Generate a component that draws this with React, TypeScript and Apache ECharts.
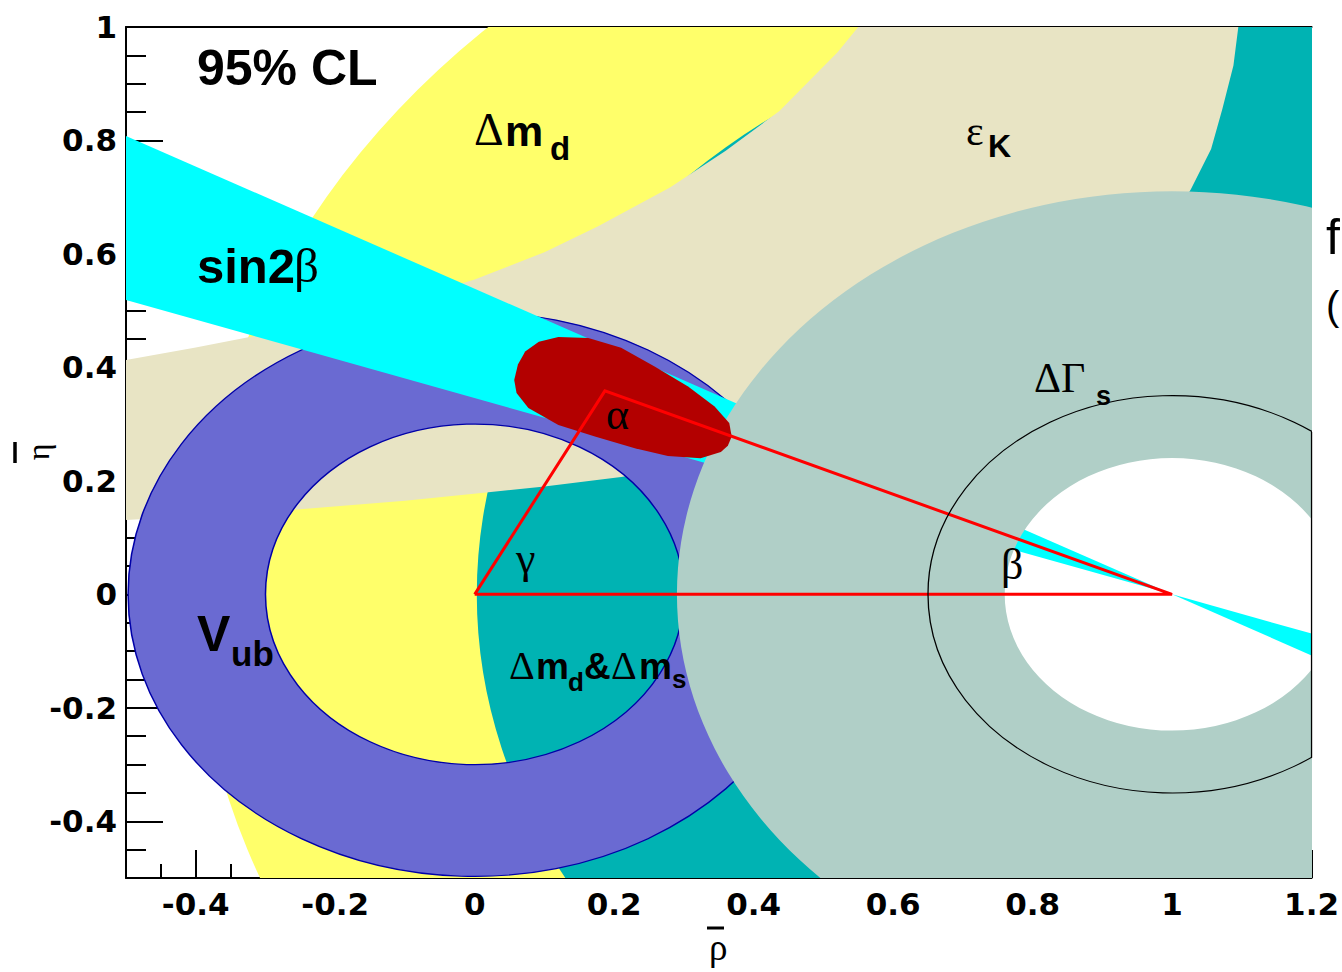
import React, { useEffect, useRef } from "react";
import * as echarts from "echarts";

// ---- axes ----
const X_MIN = -0.5;
const X_MAX = 1.2;
const Y_MIN = -0.5;
const Y_MAX = 1;
const xMajorTicks = [-0.4, -0.2, 0, 0.2, 0.4, 0.6, 0.8, 1, 1.2];
const yMajorTicks = [-0.4, -0.2, 0, 0.2, 0.4, 0.6, 0.8, 1];
const minorStep = 0.05;

// ---- constraint bands (centre in (rho, eta), radii in data units) ----
const dmdBand = { center: [1, 0], inner: 0.8, outer: 1.4 }; // yellow, Δm_d
const dmdDmsBand = { center: [1.05, 0], inner: 0.5, outer: 1.047 }; // teal, Δm_d&Δm_s
const vubBand = { center: [0, 0], inner: 0.3, outer: 0.497 }; // blue, V_ub
const dGammaBand = { center: [1, 0], inner: 0.24, outer: 0.71 }; // grey, ΔΓ_s
const dGammaCircle = { center: [1, 0], r: 0.35 }; // thin black circle
const dGammaCircleEdge = [
  [1.2, 0.286],
  [1.2, -0.288],
];

// ε_K band: upper boundary (left→right) and lower boundary (right→left)
const epsKUpper = [
  [-0.55, 0.402], [-0.5, 0.413], [-0.4, 0.435], [-0.319, 0.4546], [-0.2, 0.487],
  [-0.1, 0.518], [0, 0.555], [0.1, 0.603], [0.177, 0.649], [0.28, 0.717],
  [0.36, 0.782], [0.437, 0.852], [0.482, 0.908], [0.52, 0.955], [0.55, 1.0], [0.59, 1.06],
];
const epsKLower = [
  [1.105, 1.06], [1.095, 1.0], [1.088, 0.932], [1.072, 0.855], [1.056, 0.785],
  [1.027, 0.714], [1.0, 0.66], [0.9, 0.53], [0.8, 0.44], [0.7, 0.37], [0.5, 0.28],
  [0.3, 0.225], [0.21, 0.207], [0.1, 0.19], [0.006, 0.178], [-0.1, 0.165],
  [-0.3, 0.145], [-0.5, 0.131], [-0.55, 0.127],
];

// sin2β wedge (two lines through the apex (1,0))
const sin2bLeft = [[-0.5, 0.808], [1, 0], [-0.5, 0.519]];
const sin2bRight = [[1, 0], [1.2, -0.1077], [1.2, -0.0692]];

// 95% CL fit contour
const fitContour = [
  [0.0567, 0.378], [0.062, 0.405], [0.0724, 0.428], [0.092, 0.445], [0.12, 0.4535],
  [0.163, 0.452], [0.21, 0.4346], [0.258, 0.4016], [0.306, 0.3663], [0.344, 0.331],
  [0.365, 0.302], [0.3686, 0.278], [0.363, 0.262], [0.353, 0.251], [0.324, 0.24],
  [0.277, 0.244], [0.2296, 0.2574], [0.1724, 0.278], [0.12, 0.2986], [0.077, 0.3286],
  [0.06, 0.355],
];

// unitarity triangle
const triangle = [[0, 0], [0.1867, 0.3587], [1, 0], [0, 0]];

const SANS = '"Liberation Sans", Arial, Helvetica, sans-serif';
const SERIF = '"Liberation Serif", "Times New Roman", serif';
const TICKFONT = '"DejaVu Sans", "Liberation Sans", sans-serif';

const COLORS = {
  yellow: "#ffff6a",
  teal: "#00b3b3",
  beige: "#e8e4c4",
  blue: "#6a6ad2",
  blueEdge: "#0000a8",
  cyan: "#00ffff",
  grey: "#b0cfc7",
  red: "#b30000",
  line: "#ff0000",
};

function bandSeries(name: string, z: number, band: any, fill: string, stroke?: string) {
  return {
    type: "custom",
    name,
    coordinateSystem: "cartesian2d",
    clip: true,
    silent: true,
    z,
    data: [[band.center[0], band.center[1], band.inner, band.outer]],
    renderItem: (params: any, api: any) => {
      const c = api.coord([api.value(0), api.value(1)]);
      const ux = api.size([1, 0])[0];
      const uy = api.size([0, 1])[1];
      return {
        type: "ring",
        x: c[0],
        y: c[1],
        scaleY: uy / ux,
        shape: { cx: 0, cy: 0, r: api.value(3) * ux, r0: api.value(2) * ux },
        style: {
          fill,
          stroke: stroke || null,
          lineWidth: stroke ? 1.5 : 0,
          strokeNoScale: true,
        },
      };
    },
  };
}

function circleSeries(name: string, z: number, circ: any, stroke: string) {
  return {
    type: "custom",
    name,
    coordinateSystem: "cartesian2d",
    clip: true,
    silent: true,
    z,
    data: [[circ.center[0], circ.center[1], circ.r]],
    renderItem: (params: any, api: any) => {
      const c = api.coord([api.value(0), api.value(1)]);
      const ux = api.size([1, 0])[0];
      const uy = api.size([0, 1])[1];
      return {
        type: "circle",
        x: c[0],
        y: c[1],
        scaleY: uy / ux,
        shape: { cx: 0, cy: 0, r: api.value(2) * ux },
        style: { fill: "none", stroke, lineWidth: 1.3, strokeNoScale: true },
      };
    },
  };
}

function polygonSeries(name: string, z: number, polys: number[][][], fill: string) {
  const all = polys.flat();
  return {
    type: "custom",
    name,
    coordinateSystem: "cartesian2d",
    clip: true,
    silent: true,
    z,
    data: all,
    renderItem: (params: any, api: any) => {
      if (params.dataIndex !== 0) return null;
      return {
        type: "group",
        children: polys.map((poly) => ({
          type: "polygon",
          shape: { points: poly.map((p) => api.coord(p)) },
          style: { fill, stroke: null },
        })),
      };
    },
  };
}

function lineSeries(name: string, z: number, data: number[][], color: string, width: number) {
  return {
    type: "line",
    name,
    z,
    data,
    silent: true,
    showSymbol: false,
    symbol: "none",
    clip: false,
    lineStyle: { color, width, join: "miter" },
  };
}

type Frag = [string, number, number, string, number, string?];
const labelFrags: Frag[] = [
  ["95% CL", 197, 85, SANS, 50, "bold"],
  ["sin2", 197, 283, SANS, 49, "bold"],
  ["β", 294, 283, SERIF, 49],
  ["Δ", 474, 146, SERIF, 46],
  ["m", 505, 146, SANS, 43, "bold"],
  ["d", 550, 160, SANS, 33, "bold"],
  ["ε", 966, 146, SERIF, 42],
  ["K", 988, 157, SANS, 32, "bold"],
  ["V", 197, 651, SANS, 50, "bold"],
  ["ub", 231, 666, SANS, 35, "bold"],
  ["Δ", 509, 679, SERIF, 40],
  ["m", 536, 679, SANS, 37, "bold"],
  ["d", 568, 691, SANS, 26, "bold"],
  ["&", 584, 679, SANS, 37, "bold"],
  ["Δ", 611, 679, SERIF, 40],
  ["m", 639, 679, SANS, 37, "bold"],
  ["s", 672, 688, SANS, 26, "bold"],
  ["α", 606, 430, SERIF, 44],
  ["γ", 516, 574, SERIF, 44],
  ["β", 1001, 580, SERIF, 44],
  ["ΔΓ", 1034, 393, SERIF, 42],
  ["s", 1096, 405, SANS, 27, "bold"],
  ["ρ", 709, 960, SERIF, 37],
  ["f", 1326, 254, SANS, 50],
  ["(", 1326, 320, SANS, 40],
];

function fragEl(f: Frag) {
  const [text, x, base, fam, size, weight] = f;
  return {
    type: "text",
    x,
    y: base - 0.35 * size,
    z: 100,
    silent: true,
    style: {
      text,
      fontFamily: fam,
      fontSize: size,
      fontWeight: weight || "normal",
      fill: "#000",
      align: "left",
      verticalAlign: "middle",
    },
  };
}

const fmt = (v: number) => String(Math.round(v * 100) / 100);

function buildOption() {
  const axisLineStyle = { color: "#000", width: 2 };
  const tickLineStyle = { color: "#000", width: 2 };
  return {
    animation: false,
    backgroundColor: "#ffffff",
    grid: { left: 126, top: 27, width: 1190, height: 851, containLabel: false },
    xAxis: [
      {
        type: "value",
        min: X_MIN,
        max: X_MAX,
        position: "bottom",
        axisLine: { show: true, onZero: false, lineStyle: axisLineStyle },
        axisTick: { show: true, inside: true, length: 28, customValues: xMajorTicks, lineStyle: tickLineStyle },
        axisLabel: {
          show: true,
          customValues: xMajorTicks,
          formatter: fmt,
          fontFamily: TICKFONT,
          fontSize: 31,
          fontWeight: "bold",
          color: "#000",
          margin: 10,
          showMinLabel: true,
          showMaxLabel: true,
        },
        splitLine: { show: false },
      },
      {
        type: "value",
        min: X_MIN,
        max: X_MAX,
        interval: minorStep,
        position: "bottom",
        offset: 0,
        axisLine: { show: false, onZero: false },
        axisTick: { show: true, inside: true, length: 14, lineStyle: tickLineStyle },
        axisLabel: { show: false },
        splitLine: { show: false },
      },
      {
        type: "value",
        min: X_MIN,
        max: X_MAX,
        position: "top",
        offset: 0,
        axisLine: { show: true, onZero: false, lineStyle: axisLineStyle },
        axisTick: { show: false },
        axisLabel: { show: false },
        splitLine: { show: false },
      },
    ],
    yAxis: [
      {
        type: "value",
        min: Y_MIN,
        max: Y_MAX,
        position: "left",
        axisLine: { show: true, onZero: false, lineStyle: axisLineStyle },
        axisTick: { show: true, inside: true, length: 37, customValues: yMajorTicks, lineStyle: tickLineStyle },
        axisLabel: {
          show: true,
          customValues: yMajorTicks,
          formatter: fmt,
          fontFamily: TICKFONT,
          fontSize: 31,
          fontWeight: "bold",
          color: "#000",
          margin: 9,
          showMinLabel: true,
          showMaxLabel: true,
        },
        splitLine: { show: false },
      },
      {
        type: "value",
        min: Y_MIN,
        max: Y_MAX,
        interval: minorStep,
        position: "left",
        offset: 0,
        axisLine: { show: false, onZero: false },
        axisTick: { show: true, inside: true, length: 20, lineStyle: tickLineStyle },
        axisLabel: { show: false },
        splitLine: { show: false },
      },
    ],
    series: [
      bandSeries("Δm_d", 2, dmdBand, COLORS.yellow),
      bandSeries("Δm_d&Δm_s", 3, dmdDmsBand, COLORS.teal),
      polygonSeries("ε_K", 4, [[...epsKUpper, ...epsKLower]], COLORS.beige),
      bandSeries("V_ub", 5, vubBand, COLORS.blue, COLORS.blueEdge),
      polygonSeries("sin2β", 6, [sin2bLeft, sin2bRight], COLORS.cyan),
      bandSeries("ΔΓ_s", 7, dGammaBand, COLORS.grey),
      polygonSeries("fit", 8, [fitContour], COLORS.red),
      lineSeries("triangle", 9, triangle, COLORS.line, 3),
      circleSeries("ΔΓ_s circle", 10, dGammaCircle, "#000"),
      lineSeries("ΔΓ_s edge", 10, dGammaCircleEdge, "#000", 1.3),
    ],
    graphic: {
      elements: [
        ...labelFrags.map(fragEl),
        {
          type: "line",
          z: 100,
          silent: true,
          shape: { x1: 707, y1: 928, x2: 724, y2: 928 },
          style: { stroke: "#000", lineWidth: 3 },
        },
        {
          type: "text",
          x: 38,
          y: 452,
          rotation: Math.PI / 2,
          z: 100,
          silent: true,
          style: {
            text: "η",
            fontFamily: SERIF,
            fontSize: 32,
            fill: "#000",
            align: "center",
            verticalAlign: "middle",
          },
        },
        {
          type: "line",
          z: 100,
          silent: true,
          shape: { x1: 15, y1: 442, x2: 15, y2: 463 },
          style: { stroke: "#000", lineWidth: 3.5 },
        },
      ],
    },
  };
}

export default function App() {
  const ref = useRef<HTMLDivElement>(null);
  useEffect(() => {
    const chart = echarts.init(ref.current as HTMLDivElement, null, { renderer: "svg" });
    chart.setOption(buildOption() as any);
    return () => chart.dispose();
  }, []);
  return (
    <div
      ref={ref}
      style={{ position: "absolute", left: 0, top: 0, width: 1342, height: 972, background: "#fff" }}
    />
  );
}
